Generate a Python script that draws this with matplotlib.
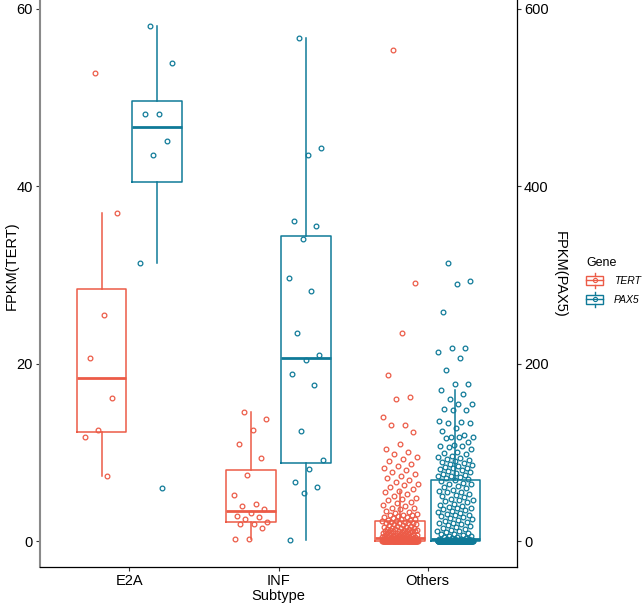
import matplotlib
matplotlib.use("Agg")
import matplotlib.pyplot as plt
import numpy as np
from matplotlib.lines import Line2D
from matplotlib.patches import Rectangle
from matplotlib.legend_handler import HandlerBase

plt.rcParams["font.family"] = ["Liberation Sans", "DejaVu Sans"]

# ---- data ----
subtypes = ["E2A", "INF", "Others"]
genes = ["TERT", "PAX5"]
colors = {"TERT": "#EC5B47", "PAX5": "#0F7A98"}

# FPKM(TERT), left axis
tert_e2a = [52.8, 37.0, 25.5, 20.6, 16.2, 12.5, 11.8, 7.4]
tert_inf = [14.6, 13.8, 12.5, 11.0, 9.4, 7.5, 5.2, 4.2, 4.0, 3.6,
            3.2, 2.8, 2.7, 2.5, 2.2, 1.9, 1.9, 1.5, 0.2, 0.2]
tert_others_high = [55.4, 29.1, 23.5, 18.7, 16.3, 16.0, 14.0, 13.1, 13.1, 12.3,
                    11.0, 10.4, 10.1, 9.8, 9.5, 9.3, 9.0, 8.7, 8.5, 8.2,
                    8.0, 7.8, 7.6, 7.3, 7.1, 6.9, 6.7, 6.5, 6.3, 6.1,
                    5.9, 5.7, 5.5, 5.3, 5.1, 4.9, 4.8, 4.6, 4.4, 4.3,
                    4.1, 4.0, 3.8, 3.7, 3.6, 3.4, 3.3, 3.2, 3.1, 3.0,
                    2.9, 2.9, 2.8, 2.7, 2.7, 2.6, 2.5, 2.5, 2.4, 2.4]
tert_others_low = [2.3, 2.3, 2.2, 2.2, 2.1, 2.1, 2.0, 2.0, 1.9, 1.9,
                   1.8, 1.8, 1.7, 1.7, 1.6, 1.6, 1.5, 1.5, 1.5, 1.4,
                   1.4, 1.4, 1.3, 1.3, 1.3, 1.2, 1.2, 1.2, 1.1, 1.1,
                   1.1, 1.0, 1.0, 1.0, 0.9, 0.9, 0.9, 0.9, 0.8, 0.8,
                   0.8, 0.8, 0.7, 0.7, 0.7, 0.7, 0.6, 0.6, 0.6, 0.6,
                   0.6, 0.5, 0.5, 0.5, 0.5, 0.5, 0.5, 0.4, 0.4, 0.4,
                   0.38, 0.37, 0.35, 0.34, 0.33, 0.31, 0.30, 0.29, 0.28, 0.27,
                   0.26, 0.25, 0.24, 0.23, 0.22, 0.21, 0.20, 0.19, 0.18, 0.17,
                   0.16, 0.16, 0.15, 0.14, 0.14, 0.13, 0.12, 0.12, 0.11, 0.10,
                   0.10, 0.09, 0.09, 0.08, 0.08, 0.07, 0.07, 0.06, 0.06, 0.06,
                   0.05, 0.05, 0.05, 0.04, 0.04, 0.04, 0.03, 0.03, 0.03, 0.03,
                   0.02, 0.02, 0.02, 0.02, 0.01, 0.01, 0.01, 0.01, 0.01, 0.01]
tert_others_zeros = 60

# FPKM(PAX5), right axis
pax5_e2a = [581, 539, 482, 482, 451, 435, 314, 60]
pax5_inf = [567, 443, 435, 361, 355, 341, 297, 282, 235, 210,
            204, 188, 176, 124, 91, 81, 67, 61, 54, 1]
pax5_others_high = [314, 293, 290, 258, 218, 218, 213, 207, 193, 177,
                    177, 170, 166, 160, 155, 155, 149, 148, 148, 135,
                    134, 133, 133, 128, 124, 120, 118, 118, 118, 116,
                    112, 109, 107, 107, 106, 104, 101, 99, 98, 96,
                    95, 94, 93, 92, 90, 89, 88, 87, 86, 85,
                    84, 83, 82, 81, 80, 79, 78, 77, 76, 75,
                    74, 73, 72, 71, 70]
pax5_others_low = [69, 68, 66, 65, 64, 62, 61, 60, 58, 57,
                   56, 55, 53, 52, 51, 50, 48, 47, 46, 45,
                   44, 42, 41, 40, 39, 38, 37, 36, 35, 34,
                   33, 32, 31, 30, 29, 28, 27, 26, 25, 24,
                   23, 22, 21, 20, 19, 18, 17, 16, 15, 14,
                   13, 12, 11, 10, 9, 8, 8, 7, 6, 6,
                   5, 5, 4, 4, 3,
                   2.8, 2.5, 2.3, 2.1, 1.9, 1.8, 1.6, 1.5, 1.4, 1.2,
                   1.1, 1.0, 0.9, 0.8, 0.7, 0.6, 0.5, 0.5, 0.4, 0.4,
                   0.3, 0.3, 0.2, 0.2, 0.2, 0.1, 0.1, 0.1, 0.1, 0.1]
pax5_others_zeros = 100

tert = [tert_e2a, tert_inf,
        tert_others_high + tert_others_low + [0.0] * tert_others_zeros]
pax5 = [pax5_e2a, pax5_inf,
        pax5_others_high + pax5_others_low + [0.0] * pax5_others_zeros]
scale = 10  # PAX5 axis = 10 x TERT axis

# ---- layout ----
W, H = 644, 604
dodge = 0.185
box_w = 0.33
jit = 0.12
fs = 10.5


def draw_group(ax, values, pos, color):
    ax.boxplot([values], positions=[pos], widths=box_w, showfliers=False,
               showcaps=False, manage_ticks=False,
               boxprops=dict(color=color, lw=1.1),
               whiskerprops=dict(color=color, lw=1.1),
               medianprops=dict(color=color, lw=2.0))
    n = len(values)
    offs = ((np.arange(n) * 0.6180339887 + 0.31) % 1 - 0.5) * 2 * jit
    ax.plot(pos + offs, values, "o", mfc="none", mec=color, ms=3.4,
            mew=0.9, zorder=5)


class BoxKey(HandlerBase):
    def create_artists(self, legend, orig_handle, xdescent, ydescent,
                       width, height, fontsize, trans):
        c = orig_handle.get_color()
        x0, y0 = -xdescent, -ydescent
        cx = x0 + width / 2
        b0, b1 = y0 + 0.2 * height, y0 + 0.8 * height
        ym = y0 + height / 2
        arts = [
            Rectangle((x0, b0), width, b1 - b0, fill=False, ec=c, lw=1.0),
            Line2D([cx, cx], [y0, b0], color=c, lw=1.0),
            Line2D([cx, cx], [b1, y0 + height], color=c, lw=1.0),
            Line2D([x0, x0 + width], [ym, ym], color=c, lw=1.0),
            Line2D([cx], [ym], marker="o", mfc="none", mec=c, ms=3, mew=0.8),
        ]
        for a in arts:
            a.set_transform(trans)
        return arts


fig = plt.figure(figsize=(W / 100, H / 100), dpi=100)
ax = fig.add_axes([40 / W, 1 - 567 / H, 477 / W, 567 / H])
ax2 = ax.twinx()

xpos = np.arange(1, len(subtypes) + 1)
for i in range(len(subtypes)):
    draw_group(ax, tert[i], xpos[i] - dodge, colors["TERT"])
    draw_group(ax2, pax5[i], xpos[i] + dodge, colors["PAX5"])

allv = np.concatenate([np.concatenate(tert),
                       np.concatenate(pax5) / scale])
lo, hi = allv.min(), allv.max()
pad = 0.05 * (hi - lo)
ax.set_ylim(lo - pad, hi + pad)
ax2.set_ylim((lo - pad) * scale, (hi + pad) * scale)
ax.set_xlim(0.4, len(subtypes) + 0.6)

ax.set_xticks(xpos, subtypes)
ax.set_yticks([0, 20, 40, 60])
ax2.set_yticks([0, 200, 400, 600])

for a in (ax, ax2):
    a.spines["top"].set_visible(False)
    a.tick_params(length=3, width=0.8, pad=2, labelsize=fs, colors="#333333",
                  labelcolor="black")
ax.spines["left"].set_color("#8a8a8a")
ax.spines["left"].set_linewidth(1.5)
ax.spines["right"].set_visible(False)
ax.spines["bottom"].set_linewidth(0.9)
ax2.spines["left"].set_visible(False)
ax2.spines["bottom"].set_visible(False)
ax2.spines["right"].set_linewidth(0.9)

fig.text(12 / W, 1 - 266 / H, "FPKM(TERT)", rotation=90, ha="center",
         va="center", fontsize=fs)
fig.text(560 / W, 1 - 274 / H, "FPKM(PAX5)", rotation=270, ha="center",
         va="center", fontsize=fs)
fig.text(278 / W, 1 - 596 / H, "Subtype", ha="center", va="center",
         fontsize=fs)

handles = [Line2D([], [], color=colors[g]) for g in genes]
fig.legend(handles, genes, title="Gene", loc="center left",
           bbox_to_anchor=(586 / W, 1 - 282 / H), frameon=False,
           handler_map={Line2D: BoxKey()}, handlelength=1.65,
           handleheight=1.9, handletextpad=1.0, labelspacing=0.35,
           borderaxespad=0, borderpad=0, alignment="left",
           prop=dict(style="italic", size=7.5), title_fontsize=9)

fig.savefig("out.png", dpi=100)
